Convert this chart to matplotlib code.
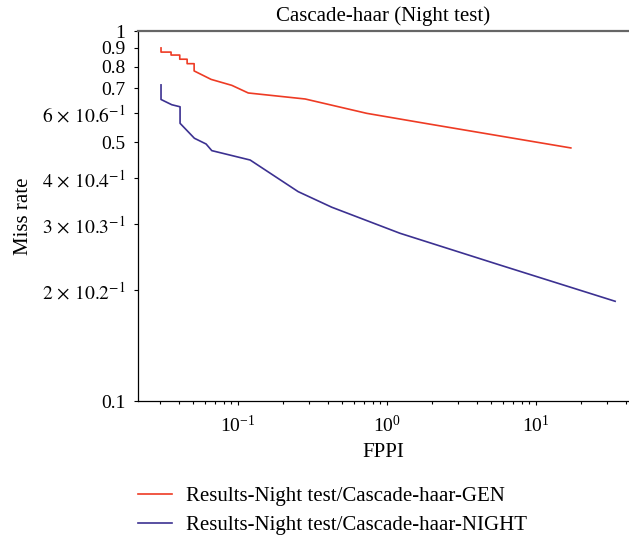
import matplotlib
matplotlib.use("Agg")
import matplotlib.pyplot as plt
from matplotlib.ticker import LogLocator, NullLocator, NullFormatter

plt.rcParams['font.family'] = ['Liberation Serif', 'DejaVu Serif']
plt.rcParams['mathtext.fontset'] = 'stix'

# FPPI / miss rate
gen_fppi = [0.0304, 0.0304, 0.0355, 0.0355, 0.0406, 0.0406, 0.0455, 0.0455,
            0.0507, 0.0507, 0.0659, 0.0908, 0.117, 0.282, 0.731, 1.94, 17.1]
gen_miss = [0.900, 0.877, 0.877, 0.861, 0.861, 0.839, 0.839, 0.816,
            0.816, 0.780, 0.740, 0.713, 0.680, 0.655, 0.599, 0.560, 0.483]

night_fppi = [0.0304, 0.0304, 0.0359, 0.0408, 0.0408, 0.0509, 0.0610, 0.0666,
              0.1205, 0.253, 0.425, 1.22, 5.73, 33.9]
night_miss = [0.715, 0.653, 0.632, 0.624, 0.563, 0.513, 0.495, 0.475,
              0.448, 0.368, 0.334, 0.284, 0.233, 0.186]

ytick_vals = [0.1, 0.2, 0.3, 0.4, 0.5, 0.6, 0.7, 0.8, 0.9, 1.0]
ytick_labels = ['0.1', r'$2\,\times\,10.2^{-1}$', r'$3\,\times\,10.3^{-1}$', r'$4\,\times\,10.4^{-1}$',
                '0.5', r'$6\,\times\,10.6^{-1}$', '0.7', '0.8', '0.9', '1']

fig = plt.figure(figsize=(6.29, 5.35), dpi=100)
ax = fig.add_axes([138 / 629, 134 / 535, 491 / 629, 370 / 535])

ax.plot(gen_fppi, gen_miss, color='#ee3b24', linewidth=1.2,
        label='Results-Night test/Cascade-haar-GEN')
ax.plot(night_fppi, night_miss, color='#3c3191', linewidth=1.2,
        label='Results-Night test/Cascade-haar-NIGHT')

ax.set_xscale('log')
ax.set_yscale('log')
ax.set_xlim(0.0213, 42)
ax.set_ylim(0.1, 1.0)

ax.set_yticks(ytick_vals)
ax.set_yticklabels(ytick_labels)
ax.yaxis.set_minor_locator(NullLocator())
ax.yaxis.set_minor_formatter(NullFormatter())
ax.xaxis.set_major_locator(LogLocator(base=10))
ax.xaxis.set_minor_locator(LogLocator(base=10, subs=range(2, 10)))

ax.tick_params(axis='both', which='major', direction='out', length=3, width=0.8,
               labelsize=14, pad=7)
ax.tick_params(axis='x', which='minor', direction='out', length=2, width=0.8)
ax.tick_params(axis='y', which='major', pad=6)

ax.spines['right'].set_visible(False)
ax.spines['top'].set_color('#666666')
ax.spines['top'].set_linewidth(1.6)
ax.spines['left'].set_linewidth(0.9)
ax.spines['bottom'].set_linewidth(0.9)

ax.set_title('Cascade-haar (Night test)', fontsize=15, pad=7)
ax.set_xlabel('FPPI', fontsize=15, labelpad=5)
ax.set_ylabel('Miss rate', fontsize=15, labelpad=6)

fig.legend(loc='upper left', bbox_to_anchor=(130 / 629, 1 - 478 / 535),
           frameon=False, fontsize=15, handlelength=1.63, handletextpad=0.67,
           labelspacing=0.45, borderaxespad=0)

fig.savefig('out.png', dpi=100)
